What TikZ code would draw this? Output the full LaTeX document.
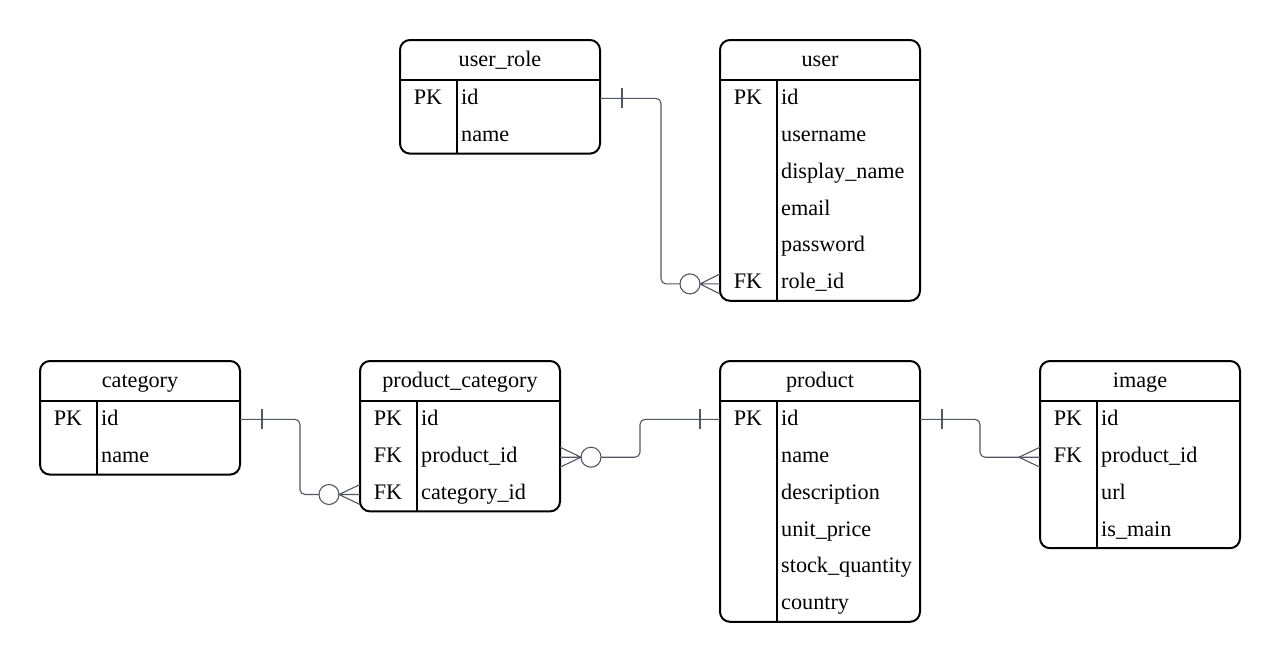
\documentclass[tikz,border=0pt]{standalone}
\usepackage{fontspec}
\setmainfont{Liberation Serif}
\usetikzlibrary{calc}
\definecolor{connc}{RGB}{82,88,99}
\newcommand\ertab[6]{% #1 name, #2 title, #3 x, #4 y, #5 nrows, #6 rows
  \pgfmathsetmacro\tabh{40+36.8*#5}
  \node[tabbox, minimum height=\tabh pt, anchor=north west] (#1) at (#3,#4) {};
  \node[txt] at (#3+100,#4+26) {#2};
  \draw[tabline] (#3,#4+40) -- (#3+200,#4+40);
  \draw[tabline] (#3+57,#4+40) -- (#3+57,#4+\tabh);
  \foreach \k/\f [count=\i] in {#6} {
    \node[rowbox] (#1-\i) at (#3+100,#4+40+36.8*\i-18.4) {};
    \node[txt] at (#3+28,#4+40+36.8*\i-12.2) {\k};
    \node[txt, anchor=base west] at (#3+61,#4+40+36.8*\i-12.2) {\f};
  }
}
\begin{document}
\begin{tikzpicture}[x=1pt,y=-1pt,
  tabbox/.style={draw=black, line width=2pt, rounded corners=10pt, inner sep=0pt, outer sep=0pt, minimum width=200pt},
  tabline/.style={draw=black, line width=2pt},
  rowbox/.style={inner sep=0pt, outer sep=0pt, minimum width=200pt, minimum height=36.8pt},
  txt/.style={font=\fontsize{22.2}{26}\selectfont, inner sep=0pt, anchor=base},
  conn/.style={draw=connc, line width=1.1pt},
  elbow/.style={conn, rounded corners=5pt}]
\useasboundingbox (0,0) rectangle (1280,662);

\ertab{ur}{user\_role}{400}{40}{2}{PK/id, /name}
\ertab{us}{user}{720}{40}{6}{PK/id, /username, /display\_name, /email, /password, FK/role\_id}
\ertab{cat}{category}{40}{361}{2}{PK/id, /name}
\ertab{pc}{product\_category}{360}{361}{3}{PK/id, FK/product\_id, FK/category\_id}
\ertab{pr}{product}{720}{361}{6}{PK/id, /name, /description, /unit\_price, /stock\_quantity, /country}
\ertab{im}{image}{1040}{361}{4}{PK/id, FK/product\_id, /url, /is\_main}

% user_role.id -> user.role_id (one to zero-or-many)
\draw[elbow] (ur-1.east) -- ++(61,0) |- ($(us-6.west)+(-40,1.5)$);
\draw[conn] ($(ur-1.east)+(22,-10)$) -- ++(0,20);
\draw[conn] ($(us-6.west)+(-30,1.5)$) circle[radius=10pt];
\draw[conn] ($(us-6.west)+(0,-8.5)$) -- ($(us-6.west)+(-20,1.5)$) -- ($(us-6.west)+(0,11.5)$)
  ($(us-6.west)+(0,1.5)$) -- ($(us-6.west)+(-20,1.5)$);

% category.id -> product_category.category_id
\draw[elbow] (cat-1.east) -- ++(60,0) |- ($(pc-3.west)+(-41,1.5)$);
\draw[conn] ($(cat-1.east)+(22,-10)$) -- ++(0,20);
\draw[conn] ($(pc-3.west)+(-31,1.5)$) circle[radius=10pt];
\draw[conn] ($(pc-3.west)+(0,-8.5)$) -- ($(pc-3.west)+(-21,1.5)$) -- ($(pc-3.west)+(0,11.5)$)
  ($(pc-3.west)+(0,1.5)$) -- ($(pc-3.west)+(-21,1.5)$);

% product.id -> product_category.product_id
\draw[elbow] ($(pc-2.east)+(41,1)$) -| ($(pc-2.east)+(80,-20)$) |- (pr-1.west);
\draw[conn] ($(pr-1.west)+(-20,-10)$) -- ++(0,20);
\draw[conn] ($(pc-2.east)+(31,1)$) circle[radius=10pt];
\draw[conn] ($(pc-2.east)+(0,-9)$) -- ($(pc-2.east)+(21,1)$) -- ($(pc-2.east)+(0,11)$)
  ($(pc-2.east)+(0,1)$) -- ($(pc-2.east)+(21,1)$);

% product.id -> image.product_id (one to many)
\draw[elbow] (pr-1.east) -- ++(60,0) |- ($(im-2.west)+(0,1)$);
\draw[conn] ($(pr-1.east)+(22,-10)$) -- ++(0,20);
\draw[conn] ($(im-2.west)+(0,-9)$) -- ($(im-2.west)+(-21,1)$) -- ($(im-2.west)+(0,11)$);
\end{tikzpicture}
\end{document}
